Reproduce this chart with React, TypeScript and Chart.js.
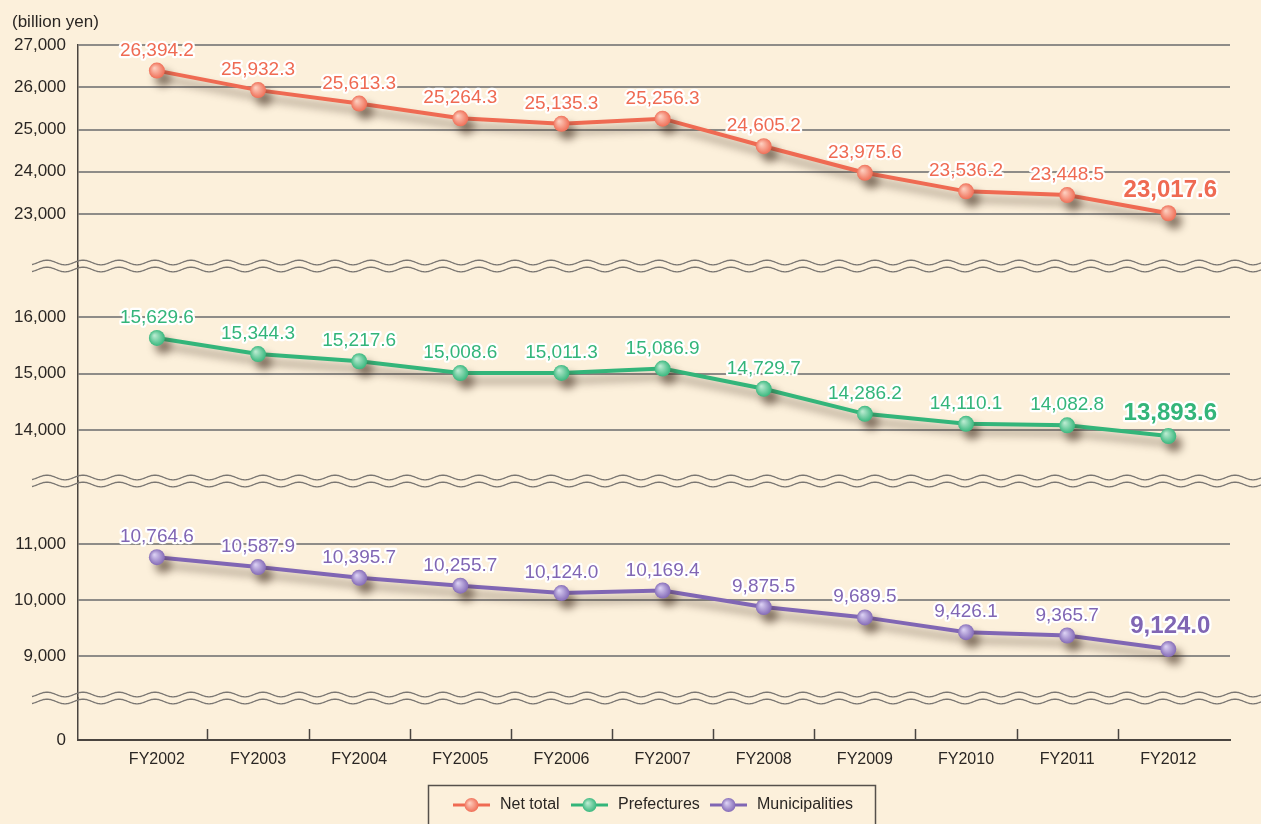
import React, { useEffect, useRef } from "react";
import { Chart, registerables } from "chart.js";

Chart.register(...registerables);

const LABELS = ["FY2002", "FY2003", "FY2004", "FY2005", "FY2006", "FY2007", "FY2008", "FY2009", "FY2010", "FY2011", "FY2012"];
const NET_TOTAL = [26394.2, 25932.3, 25613.3, 25264.3, 25135.3, 25256.3, 24605.2, 23975.6, 23536.2, 23448.5, 23017.6];
const PREFECTURES = [15629.6, 15344.3, 15217.6, 15008.6, 15011.3, 15086.9, 14729.7, 14286.2, 14110.1, 14082.8, 13893.6];
const MUNICIPALITIES = [10764.6, 10587.9, 10395.7, 10255.7, 10124.0, 10169.4, 9875.5, 9689.5, 9426.1, 9365.7, 9124.0];
const TOP_TICKS = [23000, 24000, 25000, 26000, 27000];
const MID_TICKS = [14000, 15000, 16000];
const LOW_TICKS = [9000, 10000, 11000];
const ZERO_TICKS = [0];
const SERIES_NAMES = ["Net total", "Prefectures", "Municipalities"];

const FONT = "'Liberation Sans', Arial, sans-serif";
const BG = "#FCF0DB";
const TEXT = "#2a2623";
const AXIS = "#4a4540";
const GRID = "#8e8c88";

const COLORS = ["#EF6A52", "#33B57A", "#8066B4"];
const LIGHTS = ["#FDCDBD", "#B8EACF", "#D9CEF2"];
const AXIS_IDS = ["yTop", "yMid", "yLow"];

function pointFill(i: number) {
  return (c: any) => {
    if (c.type !== "data" || !c.parsed) return COLORS[i];
    const chart = c.chart;
    const xs = chart.scales && chart.scales.x;
    const ys = chart.scales && chart.scales[AXIS_IDS[i]];
    if (!xs || !ys) return COLORS[i];
    const px = xs.getPixelForValue(c.parsed.x);
    const py = ys.getPixelForValue(c.parsed.y);
    if (!Number.isFinite(px) || !Number.isFinite(py)) return COLORS[i];
    const g = chart.ctx.createRadialGradient(px - 2.5, py - 2.5, 0.5, px, py, 8.5);
    g.addColorStop(0, LIGHTS[i]);
    g.addColorStop(1, COLORS[i]);
    return g;
  };
}

const fmt = (v: number) => v.toLocaleString("en-US", { minimumFractionDigits: 1, maximumFractionDigits: 1 });

function wave(ctx: CanvasRenderingContext2D, y: number, x0: number, x1: number) {
  ctx.beginPath();
  for (let x = x0; x <= x1; x += 1) {
    const yy = y + 2.3 * Math.sin((2 * Math.PI * (x - 20)) / 36);
    if (x === x0) ctx.moveTo(x, yy);
    else ctx.lineTo(x, yy);
  }
  ctx.stroke();
}

const customPlugin = {
  id: "custom",
  beforeDraw(chart: any) {
    const ctx = chart.ctx;
    ctx.save();
    ctx.fillStyle = BG;
    ctx.fillRect(0, 0, chart.width, chart.height);
    ctx.restore();
  },
  beforeDatasetDraw(chart: any) {
    const ctx = chart.ctx;
    ctx.save();
    ctx.shadowColor = "rgba(60,40,25,0.55)";
    ctx.shadowBlur = 8;
    ctx.shadowOffsetX = 6;
    ctx.shadowOffsetY = 8;
  },
  afterDatasetDraw(chart: any) {
    chart.ctx.restore();
  },
  afterDatasetsDraw(chart: any) {
    const ctx = chart.ctx;
    ctx.save();
    ctx.textAlign = "center";
    ctx.textBaseline = "alphabetic";
    ctx.lineJoin = "round";
    chart.data.datasets.forEach((ds: any, i: number) => {
      const meta = chart.getDatasetMeta(i);
      const n = meta.data.length;
      meta.data.forEach((pt: any, j: number) => {
        const last = j === n - 1;
        ctx.font = last ? `bold 24px ${FONT}` : `19px ${FONT}`;
        const text = fmt(ds.data[j].y);
        const x = pt.x + (last ? 2 : 0);
        const y = pt.y - (last ? 16 : 15);
        ctx.strokeStyle = "#ffffff";
        ctx.lineWidth = 4.5;
        ctx.strokeText(text, x, y);
        ctx.fillStyle = COLORS[i];
        ctx.fillText(text, x, y);
      });
    });
    ctx.restore();
  },
  afterDraw(chart: any) {
    const ctx = chart.ctx;
    const xs = chart.scales.x;
    const area = chart.chartArea;
    ctx.save();
    ctx.strokeStyle = AXIS;
    ctx.lineWidth = 1.5;
    for (let i = 0; i < LABELS.length - 1; i++) {
      const x = Math.round(xs.getPixelForValue(i + 0.5)) + 0.5;
      ctx.beginPath();
      ctx.moveTo(x, area.bottom);
      ctx.lineTo(x, area.bottom - 11);
      ctx.stroke();
    }
    ctx.strokeStyle = "#7a7672";
    ctx.lineWidth = 1.3;
    ["yTop", "yMid", "yLow"].forEach((id) => {
      const b = chart.scales[id].bottom;
      wave(ctx, b - 3.5, 32, chart.width);
      wave(ctx, b + 3.5, 32, chart.width);
    });
    ctx.fillStyle = TEXT;
    ctx.font = `17px ${FONT}`;
    ctx.textAlign = "left";
    ctx.textBaseline = "alphabetic";
    ctx.fillText("(billion yen)", 12, 27);
    ctx.strokeStyle = "#55504b";
    ctx.lineWidth = 1.5;
    ctx.strokeRect(428.5, 785.5, 447, 50);
    const items = [
      { lx: 453, tx: 500 },
      { lx: 571, tx: 618 },
      { lx: 710, tx: 757 },
    ];
    const ly = 805;
    items.forEach((it, i) => {
      ctx.strokeStyle = COLORS[i];
      ctx.lineWidth = 3;
      ctx.beginPath();
      ctx.moveTo(it.lx, ly);
      ctx.lineTo(it.lx + 37, ly);
      ctx.stroke();
      const cx = it.lx + 18.5;
      const g = ctx.createRadialGradient(cx - 2, ly - 2, 0.5, cx, ly, 7.5);
      g.addColorStop(0, LIGHTS[i]);
      g.addColorStop(1, COLORS[i]);
      ctx.fillStyle = g;
      ctx.beginPath();
      ctx.arc(cx, ly, 7, 0, Math.PI * 2);
      ctx.fill();
      ctx.fillStyle = TEXT;
      ctx.font = `16px ${FONT}`;
      ctx.textBaseline = "middle";
      ctx.fillText(SERIES_NAMES[i], it.tx, ly);
    });
    ctx.restore();
  },
};

function yScale(ticks: number[], min: number, max: number, weight: number, order: number, showGrid = true) {
  return {
    type: "linear",
    position: "left",
    stack: "v",
    stackWeight: weight,
    weight: order,
    min,
    max,
    afterBuildTicks: (s: any) => {
      s.ticks = ticks.map((v) => ({ value: v }));
    },
    afterFit: (s: any) => {
      s.width = 78;
    },
    ticks: {
      font: { family: FONT, size: 17 },
      color: TEXT,
      padding: 12,
      callback: (v: any) => Number(v).toLocaleString("en-US"),
    },
    grid: { display: showGrid, color: GRID, lineWidth: 2, drawTicks: false },
    border: { color: AXIS, width: 1.5 },
  };
}

export default function App() {
  const ref = useRef<HTMLCanvasElement | null>(null);
  useEffect(() => {
    document.body.style.margin = "0";
    document.body.style.background = BG;
    if (!ref.current) return;
    const series = [NET_TOTAL, PREFECTURES, MUNICIPALITIES];
    const chart = new Chart(ref.current, {
      type: "line",
      data: {
        datasets: series.map((vals, i) => ({
          label: SERIES_NAMES[i],
          data: vals.map((v, j) => ({ x: j, y: v })),
          yAxisID: AXIS_IDS[i],
          borderColor: COLORS[i],
          borderWidth: 4,
          borderCapStyle: "round",
          tension: 0,
          pointRadius: 8,
          pointBorderWidth: 0,
          pointBackgroundColor: pointFill(i),
          pointHoverRadius: 8,
          clip: false,
        })),
      },
      options: {
        animation: false,
        responsive: false,
        events: [],
        layout: { padding: { top: 45, right: 31, bottom: 0, left: 0 } },
        plugins: { legend: { display: false }, tooltip: { enabled: false } },
        scales: {
          x: {
            type: "linear",
            position: "bottom",
            min: -0.78,
            max: 10.61,
            afterBuildTicks: (s: any) => {
              s.ticks = LABELS.map((_, i) => ({ value: i }));
            },
            afterFit: (s: any) => {
              s.height = 84;
            },
            ticks: {
              font: { family: FONT, size: 16 },
              color: TEXT,
              padding: 10,
              autoSkip: false,
              maxRotation: 0,
              callback: (v: any) => LABELS[v] ?? "",
            },
            grid: { display: false, drawTicks: false },
            border: { color: AXIS, width: 2 },
          },
          yZero: yScale(ZERO_TICKS, 0, 1000, 42, 1, false),
          yLow: yScale(LOW_TICKS, 8250, 12125, 217, 2),
          yMid: yScale(MID_TICKS, 13098, 16903, 215, 3),
          yTop: yScale(TOP_TICKS, 21770, 27000, 221, 4),
        } as any,
      },
      plugins: [customPlugin],
    } as any);
    return () => chart.destroy();
  }, []);
  return (
    <div style={{ width: 1261, height: 824, background: BG }}>
      <canvas ref={ref} width={1261} height={824} style={{ display: "block" }} />
    </div>
  );
}
